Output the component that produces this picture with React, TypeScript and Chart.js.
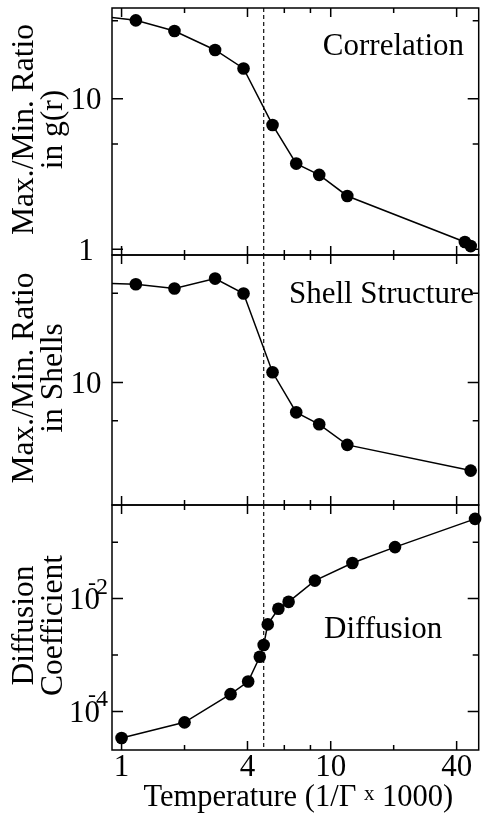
import React, { useEffect, useRef } from "react";
import { Chart, registerables } from "chart.js";
Chart.register(...registerables);

// ---------- shared x axis ----------
const X_MIN = 0.9;
const X_MAX = 51;
const xMajorTicks = [1, 4, 10, 40];
const xMinorTicks = [2, 6, 8, 20];
const xTickLabels = ["1", "4", "10", "40"];
const transitionT = 4.78;
const xTitleMain = "Temperature (1/\u0393 ";
const xTitleSmall = "x";
const xTitleEnd = " 1000)";

// ---------- panel 1: correlation ----------
const corrT = [0.5, 1.17, 1.79, 2.8, 3.83, 5.27, 6.84, 8.81, 12.0, 43.8, 46.7];
const corrRatio = [38, 33.2, 28.2, 21.1, 15.9, 6.7, 3.71, 3.12, 2.26, 1.118, 1.05];
const corrYRange = [0.916, 40.1];
const corrYMajor = [1, 10];
const corrYLabels = ["1", "10"];
const corrYMinor = [5, 33];
const corrTitle = ["Max./Min. Ratio", "in g(r)"];
const corrName = "Correlation";

// ---------- panel 2: shell structure ----------
const shellT = [0.5, 1.17, 1.79, 2.8, 3.83, 5.27, 6.84, 8.81, 12.0, 46.7];
const shellRatio = [61.4, 58.9, 54.6, 65.3, 49.8, 12.0, 5.82, 4.69, 3.23, 2.03];
const shellYRange = [1.09, 100];
const shellYMajor = [10];
const shellYLabels = ["10"];
const shellYMinor = [5, 50];
const shellTitle = ["Max./Min. Ratio", "in Shells"];
const shellName = "Shell Structure";

// ---------- panel 3: diffusion ----------
const diffT = [1.0, 2.0, 3.32, 4.03, 4.58, 4.78, 5.0, 5.62, 6.29, 8.4, 12.7, 20.3, 49];
const diffCoef = [3.38e-5, 6.4e-5, 2.02e-4, 3.38e-4, 9.3e-4, 1.5e-3, 3.48e-3, 6.58e-3, 8.75e-3, 0.0208, 0.0427, 0.0817, 0.258];
const diffYRange = [2.07e-5, 0.455];
const diffYMajor = [1e-4, 1e-2];
const diffYLabelExp = ["4", "2"];
const diffYMinor = [1e-3, 1e-1];
const diffTitle = ["Diffusion", "Coefficient"];
const diffName = "Diffusion";

const FONT = '"Liberation Serif", "Times New Roman", serif';
const W = 485;
const H = 816;

type PanelCfg = {
  xs: number[];
  ys: number[];
  yRange: number[];
  yMajor: number[];
  yLabels: string[];
  yExp?: string[];
  yMinor: number[];
  title: string[];
  name: string;
  nameAlign: "right" | "left";
  nameX: number;
  nameY: number;
  top: number;
  bottom: number;
  xAxis: boolean;
};

const panels: PanelCfg[] = [
  {
    xs: corrT, ys: corrRatio, yRange: corrYRange, yMajor: corrYMajor, yLabels: corrYLabels,
    yMinor: corrYMinor, title: corrTitle, name: corrName, nameAlign: "right", nameX: 464, nameY: 55,
    top: 8, bottom: 255, xAxis: false,
  },
  {
    xs: shellT, ys: shellRatio, yRange: shellYRange, yMajor: shellYMajor, yLabels: shellYLabels,
    yMinor: shellYMinor, title: shellTitle, name: shellName, nameAlign: "right", nameX: 474, nameY: 303,
    top: 255, bottom: 505, xAxis: false,
  },
  {
    xs: diffT, ys: diffCoef, yRange: diffYRange, yMajor: diffYMajor, yLabels: diffYMajor.map(() => "10"),
    yExp: diffYLabelExp, yMinor: diffYMinor, title: diffTitle, name: diffName, nameAlign: "left", nameX: 324, nameY: 638,
    top: 505, bottom: 750, xAxis: true,
  },
];

function makePlugin(p: PanelCfg) {
  return {
    id: "panelDecor",
    beforeDatasetsDraw(chart: any) {
      const { ctx, chartArea: a, scales } = chart;
      const px = scales.x.getPixelForValue(transitionT);
      ctx.save();
      ctx.strokeStyle = "#222";
      ctx.lineWidth = 1.3;
      ctx.setLineDash([4, 3]);
      ctx.beginPath();
      ctx.moveTo(px, a.top);
      ctx.lineTo(px, a.bottom);
      ctx.stroke();
      ctx.restore();
    },
    afterDatasetsDraw(chart: any) {
      const { ctx, chartArea: a, scales } = chart;
      const xs = scales.x;
      const ys = scales.y;
      ctx.save();
      ctx.strokeStyle = "#000";
      ctx.lineWidth = 1.5;
      ctx.strokeRect(a.left, a.top, a.right - a.left, a.bottom - a.top);
      ctx.beginPath();
      const xt = (v: number, len: number) => {
        const px = xs.getPixelForValue(v);
        ctx.moveTo(px, a.top);
        ctx.lineTo(px, a.top + len);
        ctx.moveTo(px, a.bottom);
        ctx.lineTo(px, a.bottom - len);
      };
      xMajorTicks.forEach((v) => xt(v, 9));
      xMinorTicks.forEach((v) => xt(v, 5));
      const yt = (v: number, len: number) => {
        const py = ys.getPixelForValue(v);
        ctx.moveTo(a.left, py);
        ctx.lineTo(a.left + len, py);
        ctx.moveTo(a.right, py);
        ctx.lineTo(a.right - len, py);
      };
      p.yMajor.forEach((v) => yt(v, 11));
      p.yMinor.forEach((v) => yt(v, 6));
      ctx.stroke();
      ctx.restore();
    },
    afterDraw(chart: any) {
      const { ctx, chartArea: a, scales } = chart;
      const xs = scales.x;
      const ys = scales.y;
      ctx.save();
      ctx.fillStyle = "#000";
      // y tick labels
      p.yMajor.forEach((v, i) => {
        const py = ys.getPixelForValue(v);
        ctx.font = `31px ${FONT}`;
        ctx.textAlign = "center";
        ctx.textBaseline = "alphabetic";
        ctx.fillText(p.yLabels[i], p.yExp ? 84.5 : 86, py + 10.5);
        if (p.yExp) {
          ctx.font = `24px ${FONT}`;
          ctx.textAlign = "left";
          const hw = ctx.measureText("-").width;
          ctx.fillText("-", 88, py - 9);
          ctx.fillText(p.yExp[i], 88 + hw, py - 5);
        }
      });
      // y axis title (two rotated lines)
      const cy = (a.top + a.bottom) / 2 - 2;
      ctx.font = `31.5px ${FONT}`;
      ctx.textAlign = "center";
      ctx.textBaseline = "alphabetic";
      [33, 62].forEach((bx, i) => {
        ctx.save();
        ctx.translate(bx, cy);
        ctx.rotate(-Math.PI / 2);
        ctx.fillText(p.title[i], 0, 0);
        ctx.restore();
      });
      // panel name
      ctx.font = `31px ${FONT}`;
      ctx.textAlign = p.nameAlign;
      ctx.fillText(p.name, p.nameX, p.nameY);
      // x axis
      if (p.xAxis) {
        ctx.textAlign = "center";
        xMajorTicks.forEach((v, i) => {
          ctx.fillText(xTickLabels[i], xs.getPixelForValue(v), a.bottom + 26);
        });
        const base = 806;
        ctx.font = `30.5px ${FONT}`;
        const w1 = ctx.measureText(xTitleMain).width;
        const w3 = ctx.measureText(xTitleEnd).width;
        ctx.font = `21px ${FONT}`;
        const w2 = ctx.measureText(xTitleSmall).width;
        const cx = (a.left + a.right) / 2 + 3;
        let sx = cx - (w1 + w2 + w3) / 2;
        ctx.textAlign = "left";
        ctx.font = `30.5px ${FONT}`;
        ctx.fillText(xTitleMain, sx, base);
        sx += w1;
        ctx.font = `21px ${FONT}`;
        ctx.fillText(xTitleSmall, sx, base - 6);
        sx += w2;
        ctx.font = `30.5px ${FONT}`;
        ctx.fillText(xTitleEnd, sx, base);
      }
      ctx.restore();
    },
  };
}

function buildChart(canvas: HTMLCanvasElement, p: PanelCfg) {
  return new Chart(canvas, {
    type: "line",
    data: {
      datasets: [
        {
          data: p.xs.map((x, i) => ({ x, y: p.ys[i] })),
          borderColor: "#000",
          backgroundColor: "#000",
          borderWidth: 1.5,
          pointRadius: 6.3,
          pointBorderWidth: 0,
          pointBackgroundColor: "#000",
          tension: 0,
          clip: { left: 0, top: false, right: false, bottom: false } as any,
        },
      ],
    },
    options: {
      animation: false,
      responsive: false,
      devicePixelRatio: 1,
      events: [],
      layout: {
        padding: { left: 112, right: W - 484, top: p.top, bottom: H - p.bottom },
      },
      plugins: { legend: { display: false }, tooltip: { enabled: false } },
      scales: {
        x: { type: "logarithmic", min: X_MIN, max: X_MAX, display: false, bounds: "data" },
        y: { type: "logarithmic", min: p.yRange[0], max: p.yRange[1], display: false, bounds: "data" },
      },
    },
    plugins: [makePlugin(p)],
  } as any);
}

export default function App() {
  const r0 = useRef<HTMLCanvasElement>(null);
  const r1 = useRef<HTMLCanvasElement>(null);
  const r2 = useRef<HTMLCanvasElement>(null);
  useEffect(() => {
    const refs = [r0, r1, r2];
    const charts = panels.map((p, i) => buildChart(refs[i].current as HTMLCanvasElement, p));
    return () => charts.forEach((c) => c.destroy());
  }, []);
  const style: React.CSSProperties = { position: "absolute", left: 0, top: 0, width: W, height: H };
  return (
    <div style={{ position: "absolute", left: 0, top: 0, width: W, height: H, background: "#fff" }}>
      <canvas ref={r0} width={W} height={H} style={style} />
      <canvas ref={r1} width={W} height={H} style={style} />
      <canvas ref={r2} width={W} height={H} style={style} />
    </div>
  );
}
